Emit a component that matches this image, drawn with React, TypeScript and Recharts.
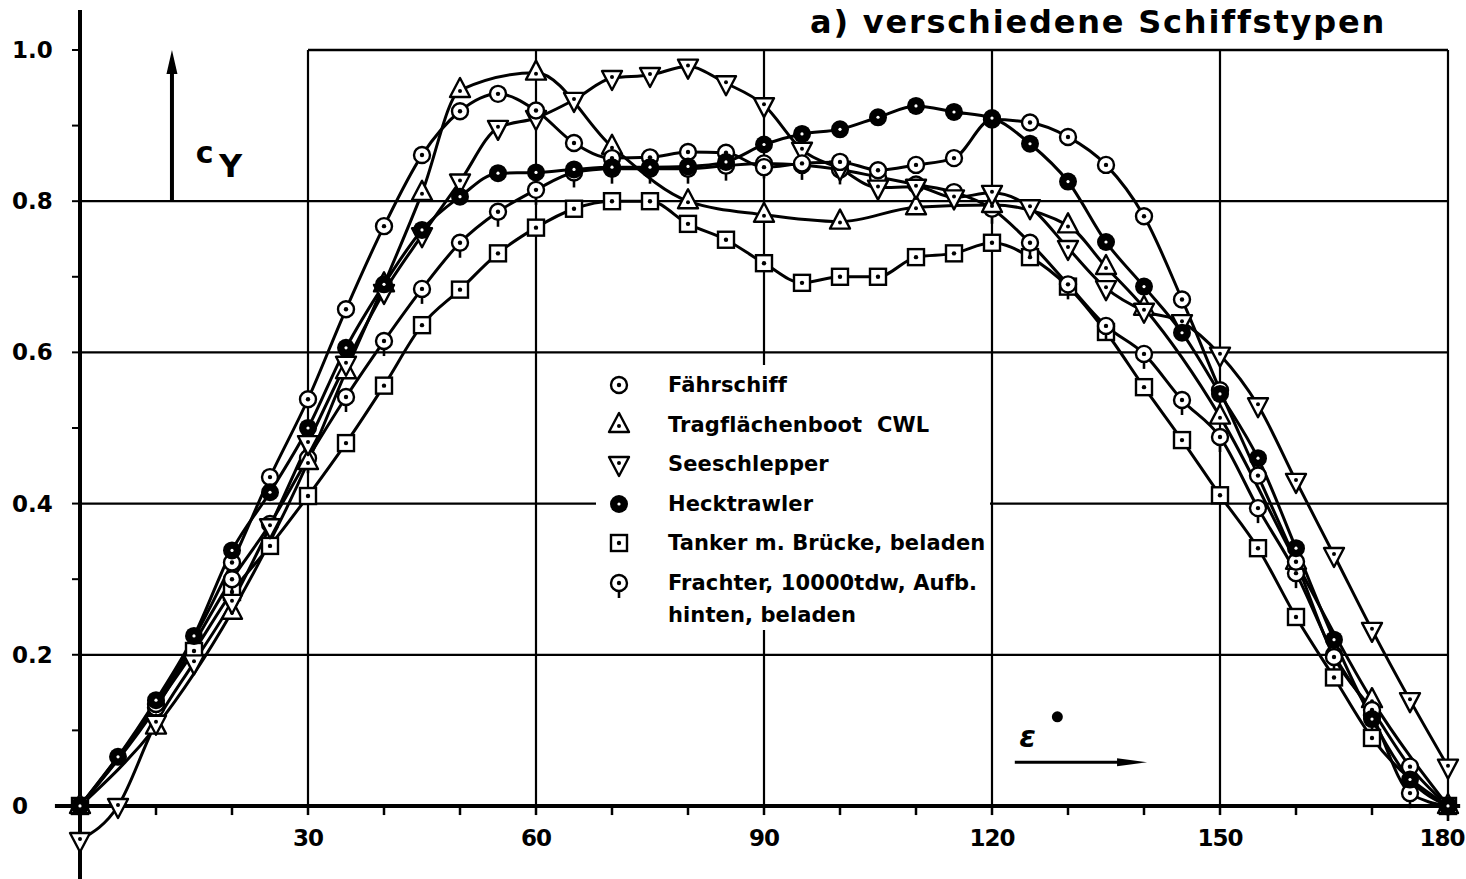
import React from 'react';
import { LineChart, Line, XAxis, YAxis, ReferenceLine, ReferenceDot } from 'recharts';

// ---- data (angle of attack in degrees, c_Y values) ----
const ANGLES = [0, 5, 10, 15, 20, 25, 30, 35, 40, 45, 50, 55, 60, 65, 70, 75, 80, 85, 90, 95, 100, 105, 110, 115, 120, 125, 130, 135, 140, 145, 150, 155, 160, 165, 170, 175, 180];

const FAEHRSCHIFF = [0, null, 0.135, null, 0.322, 0.435, 0.538, 0.657, 0.767, 0.861, 0.919, 0.942, 0.92, 0.877, 0.857, 0.858, 0.865, 0.864, 0.845, 0.85, 0.852, 0.841, 0.848, 0.857, 0.908, 0.904, 0.885, 0.848, 0.78, 0.67, 0.55, 0.437, 0.323, 0.197, 0.127, 0.052, 0];
const TRAGFLAECHENBOOT = [0, null, 0.105, null, 0.257, null, 0.455, 0.575, 0.69, 0.811, 0.947, null, 0.97, null, 0.872, null, 0.8, null, 0.782, null, 0.773, null, 0.792, null, 0.795, null, 0.768, 0.713, 0.659, null, 0.515, null, 0.323, null, 0.14, null, 0];
const SEESCHLEPPER = [-0.045, 0, 0.11, 0.19, 0.27, 0.37, 0.48, 0.585, 0.68, 0.755, 0.826, 0.897, 0.91, 0.934, 0.963, 0.967, 0.978, 0.956, 0.927, 0.868, 0.843, 0.818, 0.819, 0.805, 0.811, 0.792, 0.738, 0.685, 0.655, 0.64, 0.597, 0.53, 0.43, 0.332, 0.233, 0.14, 0.052];
const HECKTRAWLER = [0, 0.065, 0.14, 0.225, 0.338, 0.415, 0.5, 0.606, 0.69, 0.762, 0.806, 0.837, 0.838, 0.842, 0.845, 0.845, 0.846, 0.852, 0.875, 0.889, 0.895, 0.911, 0.926, 0.918, 0.91, 0.876, 0.826, 0.746, 0.687, 0.626, 0.545, 0.46, 0.341, 0.22, 0.115, 0.035, 0];
const TANKER = [0, null, null, 0.205, 0.283, 0.344, 0.41, 0.48, 0.556, 0.636, 0.683, 0.731, 0.765, 0.79, 0.8, 0.8, 0.77, 0.749, 0.718, 0.692, 0.7, 0.7, 0.726, 0.731, 0.745, 0.726, 0.687, 0.627, 0.554, 0.484, 0.411, 0.341, 0.25, 0.17, 0.09, null, 0];
const FRACHTER = [0, null, 0.13, null, 0.3, 0.373, 0.46, 0.541, 0.615, 0.684, 0.745, 0.786, 0.815, 0.838, 0.843, 0.843, 0.843, 0.847, 0.85, 0.848, 0.842, 0.832, 0.822, 0.812, 0.79, 0.745, 0.69, 0.635, 0.598, 0.537, 0.488, 0.394, 0.308, 0.2, 0.12, 0.017, 0];

// ---- axes / grid ----
const X_TICKS = [0, 10, 20, 30, 40, 50, 60, 70, 80, 90, 100, 110, 120, 130, 140, 150, 160, 170, 180];
const X_LABELS = [30, 60, 90, 120, 150, 180];
const Y_TICKS = [0, 0.1, 0.2, 0.3, 0.4, 0.5, 0.6, 0.7, 0.8, 0.9, 1.0];
const Y_LABELS = [
  { v: 0, t: '0' },
  { v: 0.2, t: '0.2' },
  { v: 0.4, t: '0.4' },
  { v: 0.6, t: '0.6' },
  { v: 0.8, t: '0.8' },
  { v: 1.0, t: '1.0' },
];
const GRID_X = [30, 60, 90, 120, 150, 180];
const GRID_Y = [0.2, 0.4, 0.6, 0.8];

const TITLE = 'a) verschiedene Schiffstypen';

const SERIES = [
  { key: 'tanker', name: 'Tanker m. Brücke, beladen', values: TANKER, marker: 'square' },
  { key: 'frachter', name: 'Frachter, 10000tdw, Aufb.', name2: 'hinten, beladen', values: FRACHTER, marker: 'pin' },
  { key: 'tragfl', name: 'Tragflächenboot  CWL', values: TRAGFLAECHENBOOT, marker: 'up' },
  { key: 'seeschl', name: 'Seeschlepper', values: SEESCHLEPPER, marker: 'down' },
  { key: 'faehr', name: 'Fährschiff', values: FAEHRSCHIFF, marker: 'circle' },
  { key: 'heck', name: 'Hecktrawler', values: HECKTRAWLER, marker: 'filled' },
];
const LEGEND_ORDER = ['faehr', 'tragfl', 'seeschl', 'heck', 'tanker', 'frachter'];

const DATA = ANGLES.map((a, i) => {
  const row: any = { x: a };
  SERIES.forEach((s) => {
    row[s.key] = s.values[i];
  });
  return row;
});

const FONT = '"DejaVu Sans", sans-serif';

const Marker = ({ kind, cx, cy }: any) => {
  const sw = 2.4;
  if (kind === 'circle') {
    return (
      <g>
        <circle cx={cx} cy={cy} r={8} fill="#fff" stroke="#000" strokeWidth={sw} />
        <circle cx={cx} cy={cy} r={2.2} fill="#000" />
      </g>
    );
  }
  if (kind === 'pin') {
    return (
      <g>
        <line x1={cx} y1={cy + 8} x2={cx} y2={cy + 15} stroke="#000" strokeWidth={2.6} />
        <circle cx={cx} cy={cy} r={8} fill="#fff" stroke="#000" strokeWidth={sw} />
        <circle cx={cx} cy={cy} r={2.2} fill="#000" />
      </g>
    );
  }
  if (kind === 'up') {
    const pts = `${cx},${cy - 12} ${cx - 10},${cy + 7} ${cx + 10},${cy + 7}`;
    return (
      <g>
        <polygon points={pts} fill="#fff" stroke="#000" strokeWidth={sw} strokeLinejoin="round" />
        <circle cx={cx} cy={cy + 1} r={2} fill="#000" />
      </g>
    );
  }
  if (kind === 'down') {
    const pts = `${cx},${cy + 12} ${cx - 10},${cy - 7} ${cx + 10},${cy - 7}`;
    return (
      <g>
        <polygon points={pts} fill="#fff" stroke="#000" strokeWidth={sw} strokeLinejoin="round" />
        <circle cx={cx} cy={cy - 1} r={2} fill="#000" />
      </g>
    );
  }
  if (kind === 'filled') {
    return (
      <g>
        <circle cx={cx} cy={cy} r={9} fill="#000" />
        <circle cx={cx} cy={cy} r={1.6} fill="#fff" />
      </g>
    );
  }
  // square
  return (
    <g>
      <rect x={cx - 8} y={cy - 8} width={16} height={16} fill="#fff" stroke="#000" strokeWidth={sw} />
      <circle cx={cx} cy={cy} r={2.2} fill="#000" />
    </g>
  );
};

const YTick = (props: any) => {
  const { x, y, payload } = props;
  const lbl = Y_LABELS.find((l) => Math.abs(l.v - payload.value) < 1e-6);
  if (!lbl) return <g />;
  return (
    <text x={x - 58} y={y} dy={8} textAnchor="start" fontFamily={FONT} fontWeight="bold" fontSize={23} fill="#000">
      {lbl.t}
    </text>
  );
};

const arrowShape = (headLen: number, halfW: number, sw: number) => (props: any) => {
  const { x1, y1, x2, y2 } = props;
  const dx = x2 - x1;
  const dy = y2 - y1;
  const len = Math.sqrt(dx * dx + dy * dy) || 1;
  const ux = dx / len;
  const uy = dy / len;
  const bx = x2 - ux * headLen;
  const by = y2 - uy * headLen;
  const px = -uy;
  const py = ux;
  const pts = `${x2},${y2} ${bx + px * halfW},${by + py * halfW} ${bx - px * halfW},${by - py * halfW}`;
  return (
    <g>
      <line x1={x1} y1={y1} x2={bx + ux * 2} y2={by + uy * 2} stroke="#000" strokeWidth={sw} />
      <polygon points={pts} fill="#000" />
    </g>
  );
};

const textShape = (txt: string, size: number, extra: any = {}) => (p: any) => (
  <text x={p.cx} y={p.cy} textAnchor="middle" fontFamily={FONT} fontSize={size} fill="#000" {...extra}>
    {txt}
  </text>
);

const LegendIcon = ({ kind }: any) => (
  <svg width={30} height={32} style={{ display: 'block' }}>
    <Marker kind={kind} cx={15} cy={14} />
  </svg>
);

export default function App() {
  const Y_MIN = -0.0966;
  const Y_MAX = 1.0529;
  const legendItems = LEGEND_ORDER.map((k) => SERIES.find((s) => s.key === k)!);
  const lastLabel = X_LABELS[X_LABELS.length - 1];
  return (
    <div
      style={{
        position: 'fixed',
        left: 0,
        top: 0,
        width: 1466,
        height: 879,
        background: '#fff',
        fontFamily: FONT,
        overflow: 'hidden',
      }}
    >
      <LineChart width={1466} height={879} data={DATA} margin={{ top: 10, right: 18, bottom: 0, left: 0 }}>
        <XAxis type="number" dataKey="x" domain={[0, 180]} hide />
        <YAxis
          type="number"
          domain={[Y_MIN, Y_MAX]}
          ticks={Y_TICKS}
          interval={0}
          width={80}
          axisLine={{ stroke: '#000', strokeWidth: 4 }}
          tickLine={{ stroke: '#000', strokeWidth: 2 }}
          tickSize={8}
          tick={<YTick />}
        />

        {GRID_Y.map((g) => (
          <ReferenceLine key={`gy${g}`} segment={[{ x: 0, y: g }, { x: 180, y: g }]} stroke="#000" strokeWidth={2.2} />
        ))}
        <ReferenceLine segment={[{ x: 30, y: 1 }, { x: 180, y: 1 }]} stroke="#000" strokeWidth={2.5} />
        {GRID_X.map((g) => (
          <ReferenceLine key={`gx${g}`} segment={[{ x: g, y: 0 }, { x: g, y: 1 }]} stroke="#000" strokeWidth={2.2} />
        ))}
        <ReferenceLine
          segment={[{ x: -3.3, y: 0 }, { x: 181.6, y: 0 }]}
          ifOverflow="visible"
          stroke="#000"
          strokeWidth={4}
        />
        {X_TICKS.map((t) => (
          <ReferenceLine key={`xt${t}`} segment={[{ x: t, y: 0 }, { x: t, y: -0.012 }]} stroke="#000" strokeWidth={2.5} />
        ))}
        {X_LABELS.map((t) => (
          <ReferenceDot
            key={`xl${t}`}
            x={t}
            y={-0.043}
            r={0}
            ifOverflow="visible"
            shape={textShape(String(t), 23, {
              fontWeight: 'bold',
              dominantBaseline: 'central',
              letterSpacing: -1,
              dx: t === lastLabel ? -6 : 0,
            })}
          />
        ))}

        {/* c_Y arrow */}
        <ReferenceLine segment={[{ x: 12.1, y: 0.8 }, { x: 12.1, y: 1.0 }]} shape={arrowShape(24, 5.5, 4)} />
        <ReferenceDot x={16.4} y={0.851} r={0} shape={textShape('c', 30, { fontWeight: 'bold' })} />
        <ReferenceDot x={19.8} y={0.832} r={0} shape={textShape('Y', 32, { fontWeight: 'bold' })} />

        {/* epsilon arrow */}
        <ReferenceLine segment={[{ x: 123, y: 0.058 }, { x: 140.4, y: 0.058 }]} shape={arrowShape(30, 4, 3)} />
        <ReferenceDot x={124.7} y={0.078} r={0} shape={textShape('ε', 30, { fontStyle: 'italic', fontWeight: 'bold' })} />
        <ReferenceDot x={128.6} y={0.118} r={5.5} fill="#000" stroke="none" />

        {SERIES.map((s) => (
          <Line
            key={s.key}
            dataKey={s.key}
            name={s.name}
            type="monotone"
            stroke="#000"
            strokeWidth={3}
            connectNulls
            isAnimationActive={false}
            activeDot={false}
            dot={(p: any) =>
              p.value == null || p.cx == null || p.cy == null ? (
                <g key={`${s.key}-${p.index}`} />
              ) : (
                <Marker key={`${s.key}-${p.index}`} kind={s.marker} cx={p.cx} cy={p.cy} />
              )
            }
          />
        ))}
      </LineChart>

      <div
        style={{
          position: 'absolute',
          left: 810,
          top: 2,
          fontSize: 32,
          lineHeight: '40px',
          fontWeight: 'bold',
          letterSpacing: 1.8,
          whiteSpace: 'nowrap',
          color: '#000',
        }}
      >
        {TITLE}
      </div>

      <div
        style={{
          position: 'absolute',
          left: 596,
          top: 365,
          width: 394,
          height: 265,
          background: '#fff',
        }}
      >
        {legendItems.map((s, i) => (
          <div key={s.key} style={{ position: 'absolute', left: 8, top: 4 + i * 39.6, width: 380 }}>
            <div style={{ position: 'absolute', left: 0, top: 2 }}>
              <LegendIcon kind={s.marker} />
            </div>
            <div
              style={{
                position: 'absolute',
                left: 64,
                top: 0,
                fontSize: 21,
                fontWeight: 'bold',
                lineHeight: '32px',
                whiteSpace: 'pre',
                letterSpacing: 0.1,
              }}
            >
              {s.name}
            </div>
            {s.name2 ? (
              <div
                style={{
                  position: 'absolute',
                  left: 64,
                  top: 32,
                  fontSize: 21,
                  fontWeight: 'bold',
                  lineHeight: '32px',
                  whiteSpace: 'pre',
                  letterSpacing: 0.1,
                }}
              >
                {s.name2}
              </div>
            ) : null}
          </div>
        ))}
      </div>
    </div>
  );
}
